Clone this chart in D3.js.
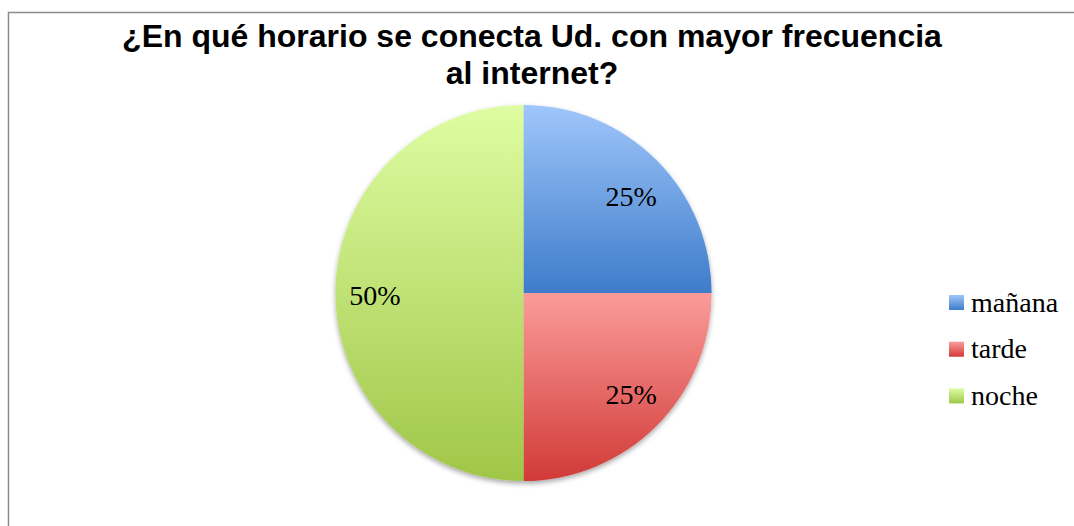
<!DOCTYPE html>
<html>
<head>
<meta charset="utf-8">
<script src="https://cdn.jsdelivr.net/npm/d3@7"></script>
<style>
  html, body { margin: 0; padding: 0; background: #fff; }
  svg { display: block; }
</style>
</head>
<body>
<svg id="chart" width="1074" height="526"></svg>
<script>
// Horario de conexión a internet (porcentaje de respuestas)
const categories = ["mañana", "tarde", "noche"];
const values = [25, 25, 50];
const valueLabels = ["25%", "25%", "50%"];
const titleLines = ["¿En qué horario se conecta Ud. con mayor frecuencia", "al internet?"];

// top / bottom colours of each slice's vertical gradient
const topColors = ["#a0c6fb", "#fb9c9a", "#defda2"];
const bottomColors = ["#3d7cca", "#d13a37", "#a0c648"];

const svg = d3.select("#chart");

const defs = svg.append("defs");
categories.forEach((c, i) => {
  const g = defs.append("linearGradient")
    .attr("id", "grad" + i)
    .attr("x1", 0).attr("y1", 0).attr("x2", 0).attr("y2", 1);
  g.append("stop").attr("offset", "0%").attr("stop-color", topColors[i]);
  g.append("stop").attr("offset", "100%").attr("stop-color", bottomColors[i]);
});
const shadow = defs.append("filter").attr("id", "pieShadow")
  .attr("x", "-10%").attr("y", "-10%").attr("width", "120%").attr("height", "125%");
shadow.append("feDropShadow")
  .attr("dx", 0).attr("dy", 2.5).attr("stdDeviation", 2.5)
  .attr("flood-color", "#000").attr("flood-opacity", 0.35);

// chart area frame
svg.append("rect")
  .attr("x", 8.5).attr("y", 12.5)
  .attr("width", 1200).attr("height", 700)
  .attr("fill", "none").attr("stroke", "#8c8c8c").attr("stroke-width", 1.5);

// title
svg.append("text")
  .attr("x", 532).attr("y", 47)
  .attr("text-anchor", "middle")
  .attr("font-family", "'Liberation Sans', Arial, sans-serif")
  .attr("font-weight", "bold").attr("font-size", 32)
  .attr("fill", "#000")
  .selectAll("tspan").data(titleLines).join("tspan")
  .attr("x", 532).attr("dy", (d, i) => i === 0 ? 0 : 37)
  .text(d => d);

// pie
const cx = 523.5, cy = 293, R = 188;
const pie = d3.pie().sort(null).value(d => d.value);
const arcs = pie(categories.map((c, i) => ({ name: c, value: values[i], label: valueLabels[i], i })));
const arc = d3.arc().innerRadius(0).outerRadius(R);
const labelArc = d3.arc().innerRadius(150).outerRadius(150);

const g = svg.append("g").attr("transform", `translate(${cx},${cy})`);
g.append("g").attr("filter", "url(#pieShadow)")
  .selectAll("path").data(arcs).join("path")
  .attr("d", arc)
  .attr("fill", d => `url(#grad${d.data.i})`);

// value labels sit a little flatter than the centroid circle
g.selectAll("text.lbl").data(arcs).join("text")
  .attr("class", "lbl")
  .attr("transform", d => {
    const [x, y] = labelArc.centroid(d);
    return `translate(${x + 1.5},${y * 0.93 + 2.5})`;
  })
  .attr("text-anchor", "middle")
  .attr("dominant-baseline", "central")
  .attr("font-family", "'Liberation Serif', 'Times New Roman', serif")
  .attr("font-size", 28)
  .attr("fill", "#000")
  .text(d => d.data.label);

// legend
const legend = svg.append("g").attr("transform", "translate(949,295)");
const item = legend.selectAll("g").data(categories).join("g")
  .attr("transform", (d, i) => `translate(0,${i * 46.7})`);
item.append("rect")
  .attr("width", 15).attr("height", 15)
  .attr("fill", (d, i) => `url(#grad${i})`);
item.append("text")
  .attr("x", 22).attr("y", 16.5)
  .attr("font-family", "'Liberation Serif', 'Times New Roman', serif")
  .attr("font-size", 28)
  .attr("fill", "#000")
  .text(d => d);
</script>
</body>
</html>
